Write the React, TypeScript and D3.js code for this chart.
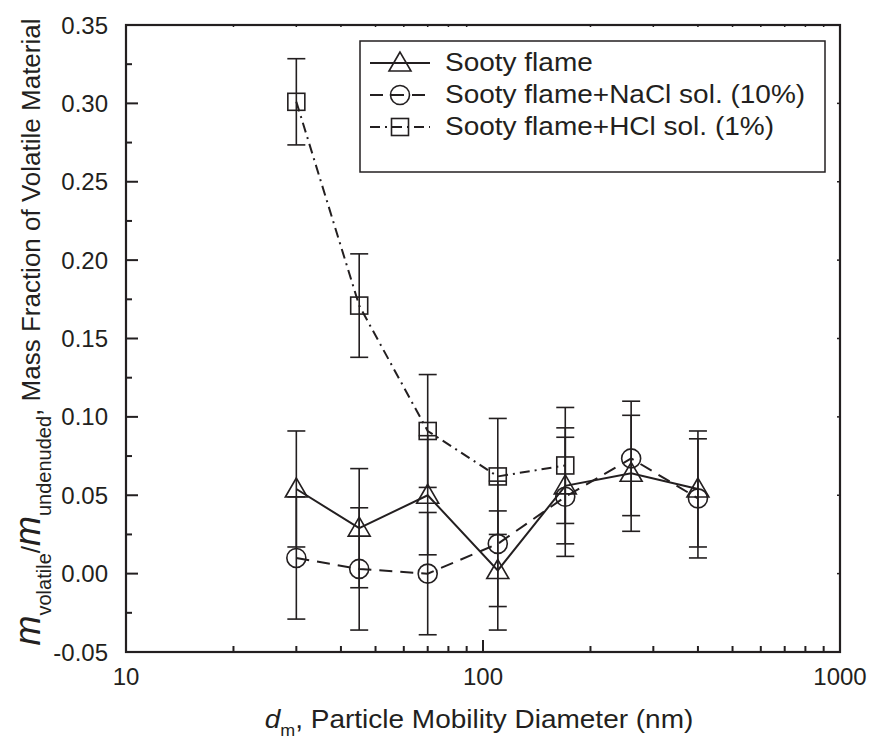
import React from "react";
import * as d3 from "d3";

const diameters = [30, 45, 70, 110, 170, 260, 400];
const sootyValues = [0.054, 0.029, 0.05, 0.002, 0.056, 0.064, 0.054];
const sootyErrors = [0.037, 0.038, 0.038, 0.038, 0.037, 0.037, 0.037];
const naclValues = [0.01, 0.003, 0.0, 0.019, 0.049, 0.0735, 0.048];
const naclErrors = [0.039, 0.039, 0.039, 0.04, 0.038, 0.0365, 0.038];
const hclDiameters = [30, 45, 70, 110, 170];
const hclValues = [0.301, 0.171, 0.091, 0.062, 0.069];
const hclErrors = [0.0275, 0.033, 0.036, 0.037, 0.037];

const yMajorTicks = [-0.05, 0, 0.05, 0.1, 0.15, 0.2, 0.25, 0.3, 0.35];
const xMajorTicks = [10, 100, 1000];
const seriesNames = [
  "Sooty flame",
  "Sooty flame+NaCl sol. (10%)",
  "Sooty flame+HCl sol. (1%)",
];

const W = 869;
const H = 743;
const L = 126, R = 840, T = 25, B = 652;
const INK = "#231f20";
const FONT = "'Liberation Sans', Arial, Helvetica, sans-serif";

const x = d3.scaleLog().domain([10, 1000]).range([L, R]);
const y = d3.scaleLinear().domain([-0.05, 0.35]).range([B, T]);

type Pt = { d: number; v: number; e: number };
const mk = (ds: number[], vs: number[], es: number[]): Pt[] =>
  ds.map((d, i) => ({ d, v: vs[i], e: es[i] }));

const series = [
  { name: seriesNames[0], pts: mk(diameters, sootyValues, sootyErrors), dash: "none", marker: "tri" },
  { name: seriesNames[1], pts: mk(diameters, naclValues, naclErrors), dash: "13 8", marker: "circ" },
  { name: seriesNames[2], pts: mk(hclDiameters, hclValues, hclErrors), dash: "10 5 2 5", marker: "sq" },
];

function Marker({ type, cx, cy }: { type: string; cx: number; cy: number }) {
  const common = { fill: "none", stroke: INK, strokeWidth: 1.6 };
  if (type === "tri")
    return <path d={`M${cx},${cy - 11}L${cx - 11},${cy + 8}L${cx + 11},${cy + 8}Z`} {...common} />;
  if (type === "circ") return <circle cx={cx} cy={cy} r={9.5} {...common} />;
  return <rect x={cx - 8.5} y={cy - 8.5} width={17} height={17} {...common} />;
}

export default function App() {
  const line = d3
    .line<Pt>()
    .x((p) => x(p.d))
    .y((p) => y(p.v));

  const yMinor: number[] = [];
  for (let i = 0; i < yMajorTicks.length - 1; i++) yMinor.push((yMajorTicks[i] + yMajorTicks[i + 1]) / 2);
  const xMinor: number[] = [];
  [10, 100].forEach((dec) => {
    for (let k = 2; k <= 9; k++) xMinor.push(dec * k);
  });

  return (
    <svg width={W} height={H} style={{ position: "absolute", left: 0, top: 0, background: "#fff" }} fontFamily={FONT}>
      <rect x={0} y={0} width={W} height={H} fill="#fff" />
      {/* error bars */}
      {series.map((s, si) =>
        s.pts.map((p, i) => {
          const cx = x(p.d);
          const y1 = y(p.v + p.e);
          const y2 = y(p.v - p.e);
          return (
            <g key={`e${si}-${i}`} stroke={INK} strokeWidth={1.6}>
              <line x1={cx} x2={cx} y1={y1} y2={y2} />
              <line x1={cx - 9} x2={cx + 9} y1={y1} y2={y1} />
              <line x1={cx - 9} x2={cx + 9} y1={y2} y2={y2} />
            </g>
          );
        })
      )}
      {/* series lines */}
      {series.map((s, si) => (
        <path key={`l${si}`} d={line(s.pts) || ""} fill="none" stroke={INK} strokeWidth={2} strokeDasharray={s.dash} />
      ))}
      {/* markers */}
      {series.map((s, si) =>
        s.pts.map((p, i) => <Marker key={`m${si}-${i}`} type={s.marker} cx={x(p.d)} cy={y(p.v)} />)
      )}

      {/* frame */}
      <rect x={L} y={T} width={R - L} height={B - T} fill="none" stroke={INK} strokeWidth={2.2} />
      {/* y ticks */}
      {yMajorTicks.map((t) => (
        <g key={`yt${t}`}>
          <line x1={L} x2={L + 12} y1={y(t)} y2={y(t)} stroke={INK} strokeWidth={2} />
          <line x1={R} x2={R - 3} y1={y(t)} y2={y(t)} stroke={INK} strokeWidth={1.5} />
          <text x={108} y={y(t)} textAnchor="end" dominantBaseline="central" fontSize={24} fill={INK}>
            {d3.format(".2f")(t).replace("−", "-")}
          </text>
        </g>
      ))}
      {yMinor.map((t) => (
        <line key={`ym${t}`} x1={L} x2={L + 6} y1={y(t)} y2={y(t)} stroke={INK} strokeWidth={2} />
      ))}
      {/* x ticks */}
      {xMajorTicks.map((t) => (
        <g key={`xt${t}`}>
          <line x1={x(t)} x2={x(t)} y1={B} y2={B - 12} stroke={INK} strokeWidth={2} />
          <text x={x(t)} y={676} textAnchor="middle" dominantBaseline="central" fontSize={24} fill={INK}>
            {t}
          </text>
        </g>
      ))}
      {xMinor.map((t) => (
        <g key={`xm${t}`}>
          <line x1={x(t)} x2={x(t)} y1={B} y2={B - 6} stroke={INK} strokeWidth={2} />
          <line x1={x(t)} x2={x(t)} y1={T} y2={T + 2} stroke={INK} strokeWidth={1.5} />
        </g>
      ))}

      {/* legend */}
      <rect x={360} y={41} width={465} height={131} fill="#fff" stroke={INK} strokeWidth={1.5} />
      {series.map((s, si) => {
        const ly = 63 + si * 32;
        return (
          <g key={`lg${si}`}>
            <line x1={370} x2={430} y1={ly} y2={ly} stroke={INK} strokeWidth={2} strokeDasharray={s.dash} />
            <Marker type={s.marker} cx={400} cy={ly} />
            <text
              transform={`translate(445,${ly}) scale(1.12,1)`}
              dominantBaseline="central"
              fontSize={25}
              fill={INK}
            >
              {s.name}
            </text>
          </g>
        );
      })}

      {/* x label */}
      <text transform={`translate(${(L + R) / 2 - 4},728) scale(1.12,1)`} textAnchor="middle" fontSize={25} fill={INK}>
        <tspan fontStyle="italic">d</tspan>
        <tspan fontSize={16} dy={8}>m</tspan>
        <tspan dy={-8}>, Particle Mobility Diameter (nm)</tspan>
      </text>

      {/* y label */}
      <text transform={`translate(40,332) rotate(-90)`} textAnchor="middle" fontSize={26} fill={INK}>
        <tspan fontStyle="italic" fontSize={36}>m</tspan>
        <tspan fontSize={20} dy={11}>volatile</tspan>
        <tspan dy={-11}>/</tspan>
        <tspan fontStyle="italic" fontSize={36}>m</tspan>
        <tspan fontSize={20} dy={11}>undenuded</tspan>
        <tspan dy={-11}>, Mass Fraction of Volatile Material</tspan>
      </text>
    </svg>
  );
}
